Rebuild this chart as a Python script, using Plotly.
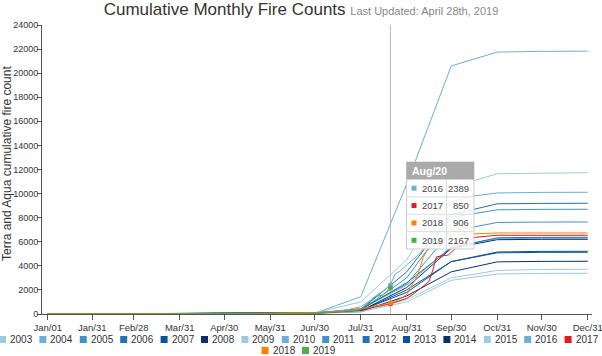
import plotly.graph_objects as go

# ------------------------------------------------------------------ data
MONTH_TICK_DATES = ["2019-01-01", "2019-01-31", "2019-02-28", "2019-03-31", "2019-04-30",
                    "2019-05-31", "2019-06-30", "2019-07-31", "2019-08-31", "2019-09-30",
                    "2019-10-31", "2019-11-30", "2019-12-31"]
MONTH_TICK_LABELS = ["Jan/01", "Jan/31", "Feb/28", "Mar/31", "Apr/30", "May/31", "Jun/30",
                     "Jul/31", "Aug/31", "Sep/30", "Oct/31", "Nov/30", "Dec/31"]

# monthly cumulative counts (values at the month-end dates above)
Y2003 = [0, 4, 8, 14, 22, 40, 70, 150, 1200, 3000, 3620, 3700, 3713]
Y2004 = [0, 5, 10, 16, 25, 45, 60, 1430, 10800, 20600, 21750, 21810, 21830]
Y2005 = [0, 6, 12, 18, 28, 50, 90, 300, 3000, 8030, 8650, 8690, 8696]
Y2006 = [0, 5, 11, 17, 26, 45, 80, 350, 3500, 8250, 9150, 9185, 9194]
Y2007 = [0, 4, 9, 15, 24, 42, 85, 250, 2000, 4350, 5150, 5200, 5207]
Y2008 = [0, 5, 10, 16, 25, 40, 75, 220, 1500, 3500, 4330, 4370, 4377]
Y2009 = [0, 5, 10, 18, 30, 55, 100, 1000, 4500, 10500, 11650, 11720, 11736]
Y2010 = [0, 4, 9, 15, 24, 44, 80, 400, 2400, 5600, 6250, 6285, 6290]
Y2011 = [0, 5, 10, 17, 27, 48, 90, 450, 2500, 6860, 7600, 7635, 7641]
Y2012 = [0, 6, 12, 18, 28, 50, 95, 350, 2600, 5500, 6330, 6365, 6370]
Y2013 = [0, 5, 10, 16, 25, 44, 80, 300, 1800, 4350, 5080, 5120, 5125]
Y2014 = [0, 4, 9, 15, 24, 42, 70, 260, 2200, 5450, 6170, 6200, 6204]
Y2015 = [0, 4, 8, 13, 21, 38, 65, 200, 1000, 2800, 3320, 3370, 3380]

# recent years with finer time resolution
D2016 = ["01-01", "01-31", "02-28", "03-31", "04-30", "05-31", "06-30", "07-10", "07-20", "07-31",
         "08-05", "08-10", "08-15", "08-20", "08-23", "08-27", "08-31", "09-05", "09-10", "09-15",
         "09-20", "09-25", "09-30", "10-15", "10-31", "11-30", "12-31"]
V2016 = [0, 5, 10, 18, 28, 50, 110, 160, 300, 600,
         1000, 1500, 1900, 2389, 3300, 3600, 4100, 4600, 5200, 6200,
         7300, 8400, 9300, 9800, 10050, 10100, 10108]

D2017 = ["01-01", "01-31", "02-28", "03-31", "04-30", "05-31", "06-30", "07-15", "07-31", "08-10",
         "08-20", "08-31", "09-05", "09-10", "09-15", "09-18", "09-20", "09-25", "09-28", "10-02",
         "10-10", "10-16", "10-31", "11-30", "12-31"]
V2017 = [0, 5, 10, 15, 20, 40, 90, 150, 350, 600,
         850, 1300, 1700, 2200, 2700, 3800, 4750, 4850, 4900, 5350,
         6000, 6370, 6536, 6536, 6540]

D2018 = ["01-01", "01-31", "02-28", "03-31", "04-30", "05-31", "06-30", "07-10", "07-20", "07-31",
         "08-10", "08-20", "08-25", "08-31", "09-03", "09-06", "09-09", "09-11", "09-14", "09-20",
         "09-27", "09-30", "10-15", "10-31", "11-30", "12-31"]
V2018 = [0, 5, 10, 15, 25, 50, 110, 170, 260, 420,
         650, 906, 1150, 1600, 2300, 2900, 3800, 4700, 5300, 5900,
         6420, 6550, 6650, 6728, 6728, 6728]

D2019 = ["01-01", "01-31", "02-28", "03-31", "04-30", "05-31", "06-30", "07-10", "07-20", "07-31",
         "08-03", "08-06", "08-10", "08-15", "08-20"]
V2019 = [0, 3, 8, 15, 25, 45, 100, 150, 230, 330,
         750, 1020, 1440, 1580, 2167]

MONTHLY_YEARS = ["2003", "2004", "2005", "2006", "2007", "2008", "2009", "2010", "2011",
                 "2012", "2013", "2014", "2015"]
MONTHLY_VALUES = [Y2003, Y2004, Y2005, Y2006, Y2007, Y2008, Y2009, Y2010, Y2011,
                  Y2012, Y2013, Y2014, Y2015]
DAILY_YEARS = ["2016", "2017", "2018", "2019"]
DAILY_DATES = [D2016, D2017, D2018, D2019]
DAILY_VALUES = [V2016, V2017, V2018, V2019]

HOVER_DAY = "08-20"
HOVER_LABEL = "Aug/20"
TITLE = "Cumulative Monthly Fire Counts"
SUBTITLE = "Last Updated: April 28th, 2019"
Y_TITLE = "Terra and Aqua cumulative fire count"

# ------------------------------------------------------------------ styles
BLUES = ["#9ecae1", "#6baed6", "#4292c6", "#2171b5", "#08519c", "#08306b"]
RECENT_COLORS = {"2016": "#6baed6", "2017": "#e41a1c", "2018": "#ff7f00", "2019": "#4daf4a"}
FONT = "Arial, Liberation Sans, sans-serif"
W, H = 602, 356
L, R, T, B = 42, 10, 25, 42


def px_x(px):
    return (px - L) / (W - L - R)


def px_y(py):
    return (H - B - py) / (H - T - B)


def year_color(year):
    if year in RECENT_COLORS:
        return RECENT_COLORS[year]
    return BLUES[(int(year) - 2003) % 6]


fig = go.Figure()

for year, vals in zip(MONTHLY_YEARS, MONTHLY_VALUES):
    fig.add_trace(go.Scatter(x=MONTH_TICK_DATES, y=vals, mode="lines", name=year,
                             line=dict(color=year_color(year), width=1), showlegend=False))

for year, dates, vals in zip(DAILY_YEARS, DAILY_DATES, DAILY_VALUES):
    fig.add_trace(go.Scatter(x=["2019-" + d for d in dates], y=vals, mode="lines", name=year,
                             line=dict(color=year_color(year), width=1), showlegend=False))

# hover markers at Aug/20
hover_vals = [vals[dates.index(HOVER_DAY)] for dates, vals in zip(DAILY_DATES, DAILY_VALUES)]
fig.add_trace(go.Scatter(x=["2019-" + HOVER_DAY] * len(hover_vals), y=hover_vals, mode="markers",
                         marker=dict(size=5, color=[year_color(y) for y in DAILY_YEARS]),
                         showlegend=False, hoverinfo="skip"))

shapes = []
annotations = []

# hover guide line
shapes.append(dict(type="line", xref="x", yref="paper", x0="2019-" + HOVER_DAY,
                   x1="2019-" + HOVER_DAY, y0=0, y1=1, line=dict(color="#bbbbbb", width=1),
                   layer="below"))

# tooltip box
bx0, bx1, by0, by1 = 406.5, 474, 162, 249
hy = 179.5
shapes.append(dict(type="rect", xref="paper", yref="paper", x0=px_x(bx0), x1=px_x(bx1),
                   y0=px_y(by1), y1=px_y(by0), fillcolor="rgba(255,255,255,0.85)",
                   line=dict(color="#cccccc", width=1), layer="above"))
shapes.append(dict(type="rect", xref="paper", yref="paper", x0=px_x(bx0), x1=px_x(bx1),
                   y0=px_y(hy), y1=px_y(by0), fillcolor="#aaaaaa",
                   line=dict(width=0), layer="above"))
annotations.append(dict(xref="paper", yref="paper", x=px_x(409.5), y=px_y((by0 + hy) / 2),
                        xanchor="left", yanchor="middle", showarrow=False,
                        text="<b>" + HOVER_LABEL + "</b>",
                        font=dict(family=FONT, size=10.5, color="white")))
row_h = (by1 - hy) / len(DAILY_YEARS)
for i, (year, v) in enumerate(zip(DAILY_YEARS, hover_vals)):
    top = hy + i * row_h
    mid = top + row_h / 2
    if i > 0:
        shapes.append(dict(type="line", xref="paper", yref="paper", x0=px_x(bx0), x1=px_x(bx1),
                           y0=px_y(top), y1=px_y(top), line=dict(color="#dddddd", width=1),
                           layer="above"))
    shapes.append(dict(type="rect", xref="paper", yref="paper", x0=px_x(411.5), x1=px_x(416.5),
                       y0=px_y(mid + 2.5), y1=px_y(mid - 2.5), fillcolor=year_color(year),
                       line=dict(width=0), layer="above"))
    annotations.append(dict(xref="paper", yref="paper", x=px_x(420), y=px_y(mid), xanchor="left",
                            yanchor="middle", showarrow=False, text=year,
                            font=dict(family=FONT, size=9.5, color="#444444")))
    annotations.append(dict(xref="paper", yref="paper", x=px_x(471), y=px_y(mid), xanchor="right",
                            yanchor="middle", showarrow=False, text=str(v),
                            font=dict(family=FONT, size=9.5, color="#444444")))
shapes.append(dict(type="line", xref="paper", yref="paper", x0=px_x(446.5), x1=px_x(446.5),
                   y0=px_y(by1), y1=px_y(hy), line=dict(color="#dddddd", width=1), layer="above"))

# y axis title
annotations.append(dict(xref="paper", yref="paper", x=px_x(7), y=px_y(164), xanchor="center",
                        yanchor="middle", showarrow=False, text=Y_TITLE, textangle=-90,
                        font=dict(family=FONT, size=12, color="#333333")))

# legend (two centred rows)
ALL_YEARS = MONTHLY_YEARS + DAILY_YEARS
rows = [ALL_YEARS[:15], ALL_YEARS[15:]]
row_y = [339.5, 350.5]
period = 40.4
for r, years in enumerate(rows):
    total = len(years) * period
    start = (W - total) / 2 + 1
    for j, year in enumerate(years):
        sx = start + j * period
        cy = row_y[r]
        shapes.append(dict(type="rect", xref="paper", yref="paper", x0=px_x(sx), x1=px_x(sx + 7),
                           y0=px_y(cy + 3.5), y1=px_y(cy - 3.5), fillcolor=year_color(year),
                           line=dict(width=0)))
        annotations.append(dict(xref="paper", yref="paper", x=px_x(sx + 9), y=px_y(cy),
                                xanchor="left", yanchor="middle", showarrow=False, text=year,
                                font=dict(family=FONT, size=10, color="#333333")))

fig.update_layout(
    width=W, height=H, autosize=False,
    margin=dict(l=L, r=R, t=T, b=B, pad=0),
    paper_bgcolor="white", plot_bgcolor="white",
    font=dict(family=FONT, size=10, color="#333333"),
    title=dict(text=TITLE + " <span style='font-size:11px;color:#888888'>" + SUBTITLE + "</span>",
               x=0.5, xref="container", xanchor="center", y=1 - 9 / H, yanchor="middle",
               font=dict(family=FONT, size=17, color="#333333")),
    xaxis=dict(type="date", range=["2018-12-28 04:00", "2020-01-02 21:00"],
               tickvals=MONTH_TICK_DATES, ticktext=MONTH_TICK_LABELS, automargin=False,
               ticklabeloverflow="allow",
               showgrid=False, zeroline=False, showline=True, linecolor="#555555",
               ticks="outside", ticklen=5, tickcolor="#555555",
               tickfont=dict(family=FONT, size=9.5, color="#333333")),
    yaxis=dict(range=[0, 24000], dtick=2000, tickformat="d", showgrid=False, zeroline=False,
               automargin=False, ticklabelstandoff=-3, ticklabeloverflow="allow",
               showline=True, linecolor="#555555", ticks="outside", ticklen=4,
               tickcolor="#555555", tickfont=dict(family=FONT, size=9, color="#333333")),
    shapes=shapes, annotations=annotations,
    showlegend=False,
)

fig.write_html("out.html", config={"displayModeBar": False},
               post_script="document.body.style.margin='0';")
